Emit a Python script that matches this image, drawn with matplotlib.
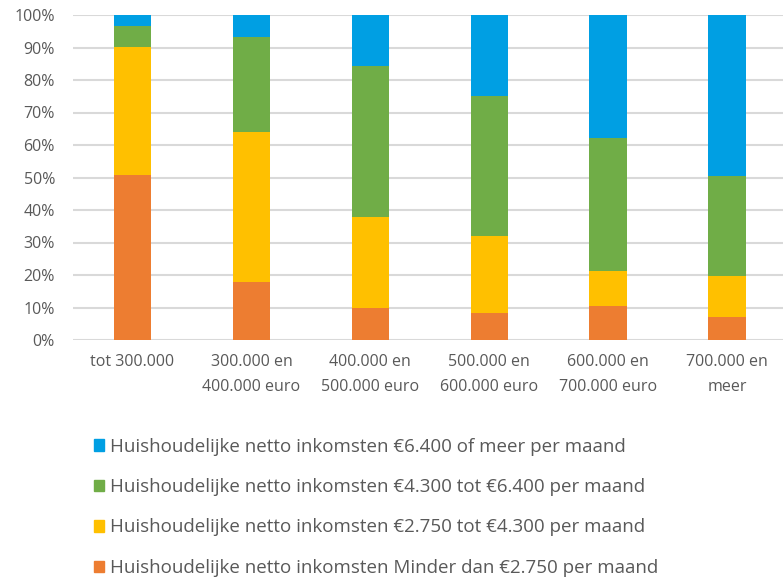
import numpy as np
import matplotlib.pyplot as plt
from matplotlib.patches import Patch

plt.rcParams['font.family'] = ['Open Sans', 'DejaVu Sans']

categories = ['tot 300.000', '300.000 en\n400.000 euro', '400.000 en\n500.000 euro',
              '500.000 en\n600.000 euro', '600.000 en\n700.000 euro', '700.000 en\nmeer']

# shares per category (%), bottom to top
minder_2750 = [50.9, 17.9, 9.7, 8.2, 10.6, 7.2]
tot_4300 = [39.3, 46.1, 28.0, 23.8, 10.6, 12.4]
tot_6400 = [6.5, 29.3, 46.7, 43.2, 41.0, 31.0]
meer_6400 = [3.3, 6.7, 15.6, 24.8, 37.8, 49.4]

series = [minder_2750, tot_4300, tot_6400, meer_6400]
colors = ['#ED7D31', '#FFC000', '#70AD47', '#009FE3']
labels = ['Huishoudelijke netto inkomsten Minder dan \u20ac2.750 per maand',
          'Huishoudelijke netto inkomsten \u20ac2.750 tot \u20ac4.300 per maand',
          'Huishoudelijke netto inkomsten \u20ac4.300 tot \u20ac6.400 per maand',
          'Huishoudelijke netto inkomsten \u20ac6.400 of meer per maand']

fig = plt.figure(figsize=(7.83, 5.83), dpi=100)
W, H = 783, 583
ax = fig.add_axes([73 / W, 1 - 340 / H, (783 - 73) / W, (340 - 15) / H])

x = np.arange(len(categories))
bottom = np.zeros(len(categories))
for vals, c in zip(series, colors):
    ax.bar(x, vals, 0.315, bottom=bottom, color=c, zorder=3)
    bottom += np.array(vals)

ax.set_ylim(0, 100)
ax.set_xlim(-0.5, 5.47)
ax.set_yticks(range(0, 101, 10))
ax.set_yticklabels([f'{v}%' for v in range(0, 101, 10)])
ax.set_xticks(x)
ax.set_xticklabels(categories, linespacing=1.75)
ax.grid(axis='y', color='#d9d9d9', linewidth=1.5, zorder=0)
ax.tick_params(length=0, colors='#595959', labelsize=11.5)
ax.tick_params(axis='x', pad=10)
ax.tick_params(axis='y', pad=13)
for s in ax.spines.values():
    s.set_visible(False)

handles = [Patch(color=c) for c in colors][::-1]
fig.legend(handles, labels[::-1], loc='upper left', bbox_to_anchor=(86 / W, 1 - 430 / H),
           frameon=False, fontsize=13.5, labelcolor='#595959', handlelength=0.55,
           handleheight=0.55, handletextpad=0.35, labelspacing=1.2, borderaxespad=0)

fig.savefig('out.png', dpi=100)
